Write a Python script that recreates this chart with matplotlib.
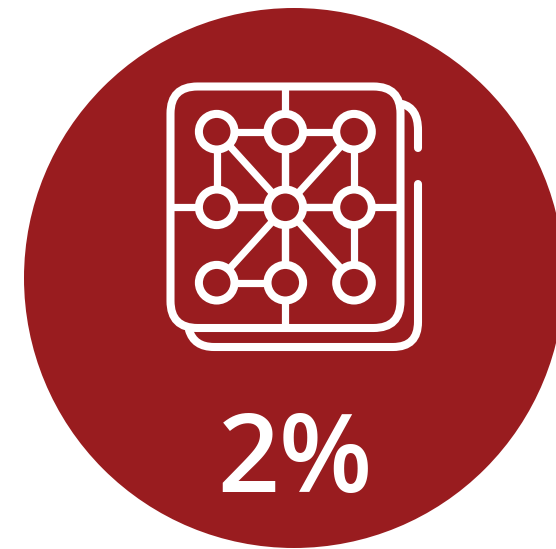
import matplotlib
matplotlib.use("Agg")
import matplotlib.pyplot as plt
from matplotlib.patches import Circle, FancyBboxPatch, PathPatch
from matplotlib.path import Path

RED = "#991c1f"
WHITE = "#ffffff"
label = "2%"

disc_center = (294, 278)
disc_radius = 270

node_x = [216.7, 285.3, 354.0]
node_y = [131.7, 207.3, 282.7]
nodes = [(0, 0), (1, 0), (2, 0), (0, 1), (1, 1), (2, 1), (0, 2), (1, 2), (2, 2)]
edges = [(0, 1), (1, 2), (0, 3), (2, 5), (5, 8), (3, 4), (4, 5), (6, 7),
         (1, 4), (4, 7), (0, 4), (2, 4), (6, 4), (8, 4)]
sheet_left, sheet_right, sheet_top, sheet_bottom = 170.5, 400.5, 86.5, 328.0
sheet_corner = 27
grid_x = 285.3
grid_y = 207.3

back_top = [(402, 104), (418, 108), (418, 130), (418, 148)]
back_main = [(418, 184), (418, 322), (418, 347), (393, 347), (214, 347), (194, 347), (189, 330)]

fig = plt.figure(figsize=(5.56, 5.49), dpi=100, facecolor="white")
ax = fig.add_axes([0, 0, 1, 1])
ax.set_xlim(0, 556)
ax.set_ylim(549, 0)
ax.axis("off")

ax.add_patch(Circle(disc_center, disc_radius, fc=RED, ec="none"))

LW = 5.8
LINE = 5.2
# rear sheet
ax.add_patch(PathPatch(Path(back_top, [Path.MOVETO, Path.CURVE3, Path.CURVE3, Path.LINETO]),
                       fc="none", ec=WHITE, lw=LW, capstyle="round"))
ax.add_patch(PathPatch(Path(back_main, [Path.MOVETO, Path.LINETO, Path.CURVE3, Path.CURVE3,
                                        Path.LINETO, Path.CURVE3, Path.CURVE3]),
                       fc="none", ec=WHITE, lw=LW, capstyle="round"))
# front sheet
ax.add_patch(FancyBboxPatch((sheet_left, sheet_top), sheet_right - sheet_left, sheet_bottom - sheet_top,
                            boxstyle=f"round,pad=0,rounding_size={sheet_corner}",
                            fc=RED, ec=WHITE, lw=LW))
# grid lines through the sheet
ax.plot([grid_x, grid_x], [sheet_top, sheet_bottom], color=WHITE, lw=LINE, solid_capstyle="butt")
ax.plot([sheet_left, sheet_right], [grid_y, grid_y], color=WHITE, lw=LINE, solid_capstyle="butt")
# network
for a, b in edges:
    ax.plot([node_x[nodes[a][0]], node_x[nodes[b][0]]],
            [node_y[nodes[a][1]], node_y[nodes[b][1]]],
            color=WHITE, lw=LINE, solid_capstyle="butt")
for cx, cy in nodes:
    ax.add_patch(Circle((node_x[cx], node_y[cy]), 17.8, fc=RED, ec=WHITE, lw=LW, zorder=5))

ax.text(295, 492, label, color=WHITE, family="Open Sans", weight="semibold",
        fontsize=78, ha="center", va="baseline", zorder=6)

fig.savefig("out.png", dpi=100, facecolor="white")
